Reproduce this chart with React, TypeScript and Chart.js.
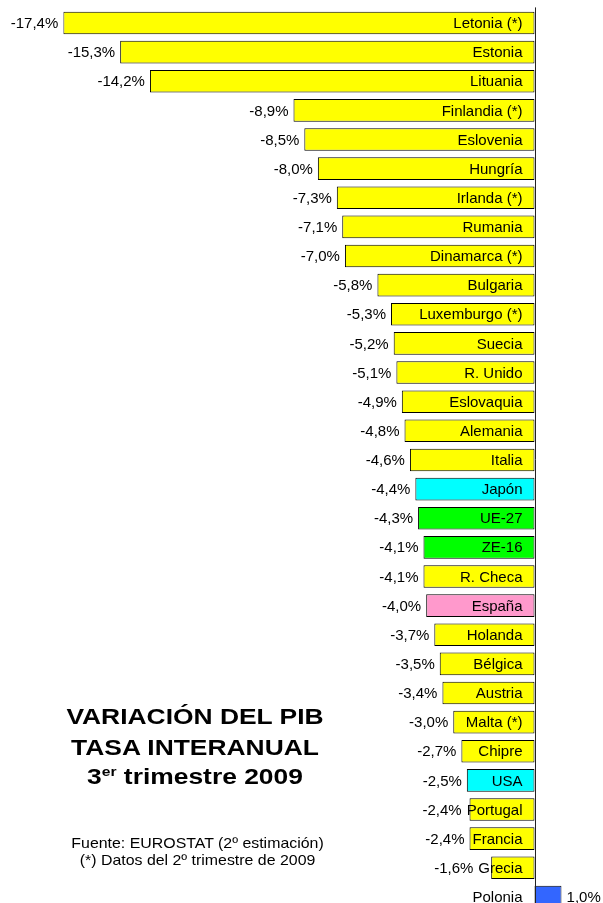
import React, { useEffect, useRef } from "react";
import { Chart, registerables } from "chart.js";

Chart.register(...registerables);

const categories = [
  "Letonia (*)", "Estonia", "Lituania", "Finlandia (*)", "Eslovenia", "Hungría",
  "Irlanda (*)", "Rumania", "Dinamarca (*)", "Bulgaria", "Luxemburgo (*)", "Suecia",
  "R. Unido", "Eslovaquia", "Alemania", "Italia", "Japón", "UE-27", "ZE-16",
  "R. Checa", "España", "Holanda", "Bélgica", "Austria", "Malta (*)", "Chipre",
  "USA", "Portugal", "Francia", "Grecia", "Polonia",
];

const values = [
  -17.4, -15.3, -14.2, -8.9, -8.5, -8.0, -7.3, -7.1, -7.0, -5.8, -5.3, -5.2,
  -5.1, -4.9, -4.8, -4.6, -4.4, -4.3, -4.1, -4.1, -4.0, -3.7, -3.5, -3.4, -3.0,
  -2.7, -2.5, -2.4, -2.4, -1.6, 1.0,
];

const YELLOW = "#FFFF00";
const CYAN = "#00FFFF";
const GREEN = "#00FF00";
const PINK = "#FF99CC";
const BLUE = "#3366FF";

const barColors = [
  YELLOW, YELLOW, YELLOW, YELLOW, YELLOW, YELLOW, YELLOW, YELLOW, YELLOW, YELLOW,
  YELLOW, YELLOW, YELLOW, YELLOW, YELLOW, YELLOW, CYAN, GREEN, GREEN, YELLOW,
  PINK, YELLOW, YELLOW, YELLOW, YELLOW, YELLOW, CYAN, YELLOW, YELLOW, YELLOW, BLUE,
];

const axisMin = -17.4;
const axisMax = 1.0;

const fmt = (v: number) => v.toFixed(1).replace(".", ",") + "%";

const labelPlugin = {
  id: "barLabels",
  afterDatasetsDraw(chart: any) {
    const ctx = chart.ctx;
    const xScale = chart.scales.x;
    const zero = xScale.getPixelForValue(0);
    const area = chart.chartArea;
    ctx.save();
    ctx.strokeStyle = "#222222";
    ctx.lineWidth = 1;
    ctx.beginPath();
    ctx.moveTo(Math.round(zero) + 0.5, area.top - 1);
    ctx.lineTo(Math.round(zero) + 0.5, chart.height);
    ctx.stroke();

    ctx.font = "15px 'Liberation Sans', Arial, sans-serif";
    ctx.fillStyle = "#000000";
    ctx.textBaseline = "middle";
    const meta = chart.getDatasetMeta(0);
    meta.data.forEach((bar: any, i: number) => {
      const v = values[i];
      const y = bar.y + 1;
      const nameRight = zero - 12;
      ctx.textAlign = "right";
      ctx.fillText(categories[i], nameRight, y);
      if (v < 0) {
        const nameLeft = nameRight - ctx.measureText(categories[i]).width;
        ctx.textAlign = "right";
        ctx.fillText(fmt(v), Math.min(bar.x, nameLeft) - 5, y);
      } else {
        ctx.textAlign = "left";
        ctx.fillText(fmt(v), bar.x + 5, y);
      }
    });
    ctx.restore();
  },
};

export default function App() {
  const canvasRef = useRef<HTMLCanvasElement | null>(null);

  useEffect(() => {
    document.body.style.margin = "0";
    const canvas = canvasRef.current;
    if (!canvas) return;
    const chart = new Chart(canvas, {
      type: "bar",
      data: {
        labels: categories,
        datasets: [
          {
            data: values,
            backgroundColor: barColors,
            borderColor: "#000000",
            borderWidth: 1,
            borderSkipped: false,
            categoryPercentage: 1,
            barPercentage: 0.776,
          },
        ],
      },
      options: {
        indexAxis: "y",
        animation: false,
        responsive: false,
        maintainAspectRatio: false,
        devicePixelRatio: 1,
        layout: { padding: { left: 63.3, right: 41.4, top: 8.4, bottom: 0.5 } },
        scales: {
          x: { display: false, min: axisMin, max: axisMax },
          y: { display: false, offset: true },
        },
        plugins: {
          legend: { display: false },
          tooltip: { enabled: false },
          title: { display: false },
        },
      },
      plugins: [labelPlugin],
    });
    return () => chart.destroy();
  }, []);

  const titleStyle: React.CSSProperties = {
    position: "absolute",
    left: 0,
    width: 390,
    textAlign: "center",
    fontFamily: "'Liberation Sans', Arial, sans-serif",
    fontWeight: "bold",
    fontSize: 22,
    color: "#000",
    lineHeight: "26px",
    whiteSpace: "nowrap",
    transform: "scaleX(1.2)",
    transformOrigin: "195px 0",
  };
  const noteStyle: React.CSSProperties = {
    position: "absolute",
    left: 0,
    width: 395,
    textAlign: "center",
    fontFamily: "'Liberation Sans', Arial, sans-serif",
    fontSize: 15,
    color: "#000",
    lineHeight: "17px",
    whiteSpace: "nowrap",
    transform: "scaleX(1.06)",
    transformOrigin: "197px 0",
  };

  return (
    <div style={{ position: "relative", width: 603, height: 903, overflow: "hidden", background: "#fff" }}>
      <canvas ref={canvasRef} width={603} height={912} style={{ display: "block", width: 603, height: 912 }} />
      <div style={{ ...titleStyle, top: 704 }}>VARIACIÓN DEL PIB</div>
      <div style={{ ...titleStyle, top: 735 }}>TASA INTERANUAL</div>
      <div style={{ ...titleStyle, top: 764 }}>
        3<sup style={{ fontSize: 13, verticalAlign: "8px", lineHeight: 0 }}>er</sup> trimestre 2009
      </div>
      <div style={{ ...noteStyle, top: 834 }}>Fuente: EUROSTAT (2º estimación)</div>
      <div style={{ ...noteStyle, top: 851 }}>(*) Datos del 2º trimestre de 2009</div>
    </div>
  );
}
